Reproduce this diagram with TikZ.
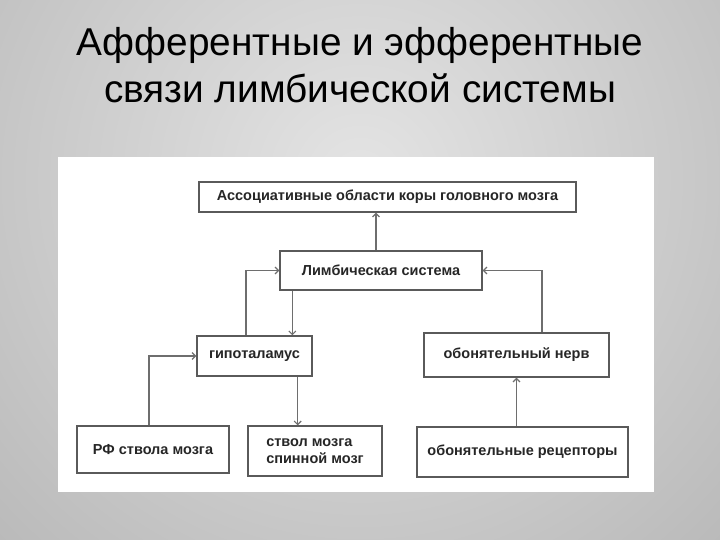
\documentclass[tikz,border=0pt]{standalone}
\usepackage{fontspec}
\setmainfont{Liberation Sans}
\usetikzlibrary{calc,arrows.meta}
\definecolor{bglight}{HTML}{E4E4E4}
\definecolor{bgdark}{HTML}{9A9A9A}
\definecolor{boxgray}{HTML}{5A5A5A}
\definecolor{linegray}{HTML}{6E6E6E}

\begin{document}
\begin{tikzpicture}[x=1pt, y=-1pt,
  box/.style={draw=boxgray, line width=1.4pt, fill=white, inner sep=0pt,
    font=\fontsize{14.5}{17}\selectfont\bfseries, text=black!85},
  link/.style={draw=linegray, line width=1.1pt, -{Straight Barb[length=3.5pt,width=7pt]}}]

  %% slide background
  \useasboundingbox (0,0) rectangle (720,540);
  \begin{scope}
    \clip (0,0) rectangle (720,540);
    \shade[inner color=bglight, outer color=bgdark] (360,180) circle (900);
  \end{scope}

  %% title (base = last line)
  \node[anchor=base, align=center, font=\fontsize{38.8}{47}\selectfont] (title) at (360,103)
    {Афферентные и эфферентные\\связи лимбической системы};

  %% white panel
  \fill[white] (58,157) rectangle (654,492);

  %% boxes
  \node[box, minimum width=377, minimum height=30] (assoc) at (387.5,197)
    {Ассоциативные области коры головного мозга};
  \node[box, minimum width=202, minimum height=39] (limbic) at (381,270.5)
    {Лимбическая система};
  \node[box, minimum width=115, minimum height=40] (hypo) at (254.5,356) {гипоталамус};
  \node[box, minimum width=185, minimum height=44] (nerve) at (516.5,355) {обонятельный нерв};
  \node[box, minimum width=152, minimum height=47] (rf) at (153,449.5) {РФ ствола мозга};
  \node[box, minimum width=134, minimum height=50, align=left] (stem) at (315,451)
    {ствол мозга\\спинной мозг};
  \node[box, minimum width=211, minimum height=50] (recep) at (522.5,452)
    {обонятельные рецепторы};

  %% connections
  \draw[link] ([xshift=-5]limbic.north) -- ([xshift=-5]limbic.north |- assoc.south); % limbic -> cortex
  \draw[link] ([xshift=-8.5]hypo.north) |- (limbic.west);                            % hypo -> limbic
  \draw[link] ([xshift=13]limbic.south west) -- ([xshift=13]limbic.south west |- hypo.north); % limbic -> hypo
  \draw[link] ([xshift=-4]rf.north) |- (hypo.west);                                  % RF -> hypo
  \draw[link] ([xshift=-15]hypo.south east) -- ([xshift=-15]hypo.south east |- stem.north); % hypo -> stem
  \draw[link] ([xshift=25.5]nerve.north) |- (limbic.east);                           % nerve -> limbic
  \draw[link] (nerve.south |- recep.north) -- (nerve.south);                         % receptors -> nerve

\end{tikzpicture}
\end{document}
